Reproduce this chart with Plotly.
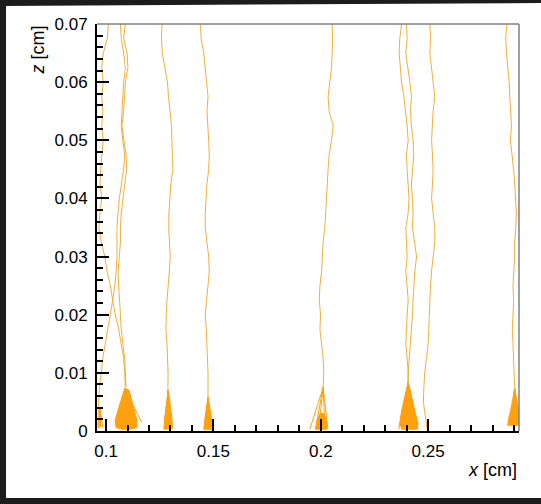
import plotly.graph_objects as go

# ---------------- data ----------------
# common drift z-levels (cm)
z_levels = [0.07, 0.0675, 0.065, 0.0625, 0.06, 0.0575, 0.055, 0.0525, 0.05,
            0.0475, 0.045, 0.0425, 0.04, 0.0375, 0.035, 0.0325, 0.03, 0.0275,
            0.025, 0.0225, 0.02, 0.0175, 0.015, 0.0125, 0.01, 0.0075]

# drift lines: x (cm) at each z-level
track_1 = [0.1011, 0.1006, 0.0987, 0.0980, 0.0987, 0.0980, 0.0985, 0.0980, 0.0987,
           0.0980, 0.0975, 0.0972, 0.0980, 0.0972, 0.0967, 0.0978, 0.0994, 0.1005,
           0.1020, 0.1031, 0.1043, 0.1059, 0.1071, 0.1082, 0.1087, 0.1090]
track_2 = [0.1067, 0.1071, 0.1082, 0.1090, 0.1082, 0.1078, 0.1074, 0.1071, 0.1078,
           0.1087, 0.1082, 0.1071, 0.1062, 0.1056, 0.1051, 0.1051, 0.1051, 0.1047,
           0.1041, 0.1031, 0.1020, 0.1009, 0.0997, 0.0985, 0.0978, 0.0969]
track_3 = [0.1090, 0.1082, 0.1098, 0.1102, 0.1090, 0.1087, 0.1082, 0.1074, 0.1082,
           0.1093, 0.1096, 0.1087, 0.1078, 0.1071, 0.1067, 0.1067, 0.1062, 0.1056,
           0.1059, 0.1062, 0.1067, 0.1071, 0.1078, 0.1087, 0.1090, 0.1093]
track_4 = [0.1261, 0.1258, 0.1262, 0.1275, 0.1286, 0.1291, 0.1298, 0.1305, 0.1307,
           0.1310, 0.1311, 0.1302, 0.1297, 0.1293, 0.1292, 0.1296, 0.1299, 0.1295,
           0.1289, 0.1284, 0.1281, 0.1279, 0.1284, 0.1288, 0.1289, 0.1288]
track_5 = [0.1439, 0.1443, 0.1455, 0.1462, 0.1470, 0.1475, 0.1470, 0.1475, 0.1478,
           0.1481, 0.1478, 0.1470, 0.1465, 0.1462, 0.1462, 0.1470, 0.1478, 0.1481,
           0.1475, 0.1470, 0.1462, 0.1467, 0.1470, 0.1475, 0.1475, 0.1475]
track_6 = [0.2053, 0.2055, 0.2053, 0.2050, 0.2042, 0.2034, 0.2039, 0.2058, 0.2050,
           0.2039, 0.2034, 0.2030, 0.2027, 0.2024, 0.2019, 0.2011, 0.2008, 0.2004,
           0.1996, 0.1993, 0.1999, 0.1996, 0.2004, 0.2011, 0.2014, 0.2011]
track_7 = [0.2376, 0.2368, 0.2365, 0.2371, 0.2376, 0.2387, 0.2396, 0.2402, 0.2407,
           0.2399, 0.2402, 0.2407, 0.2411, 0.2407, 0.2396, 0.2399, 0.2402, 0.2396,
           0.2402, 0.2407, 0.2402, 0.2399, 0.2396, 0.2402, 0.2407, 0.2407]
track_8 = [0.2399, 0.2402, 0.2396, 0.2407, 0.2415, 0.2422, 0.2418, 0.2422, 0.2430,
           0.2433, 0.2427, 0.2422, 0.2427, 0.2430, 0.2427, 0.2438, 0.2446, 0.2438,
           0.2433, 0.2430, 0.2427, 0.2422, 0.2415, 0.2411, 0.2407, 0.2405]
track_9 = [0.2508, 0.2511, 0.2508, 0.2516, 0.2523, 0.2531, 0.2523, 0.2520, 0.2516,
           0.2520, 0.2523, 0.2520, 0.2516, 0.2523, 0.2531, 0.2531, 0.2523, 0.2516,
           0.2511, 0.2508, 0.2504, 0.2500, 0.2500, 0.2492, 0.2484, 0.2480]
track_10 = [0.2867, 0.2861, 0.2865, 0.2872, 0.2877, 0.2880, 0.2883, 0.2888, 0.2883,
            0.2892, 0.2898, 0.2903, 0.2908, 0.2911, 0.2908, 0.2903, 0.2903, 0.2898,
            0.2895, 0.2898, 0.2895, 0.2892, 0.2895, 0.2898, 0.2903, 0.2903]

# tails below the last z-level (track index -> x list, z list)
tail_2_x = [0.0966, 0.0963, 0.0965]
tail_2_z = [0.0050, 0.0020, 0.0005]
tail_4_x = [0.1289]
tail_4_z = [0.0066]
tail_5_x = [0.1476, 0.1475]
tail_5_z = [0.0065, 0.0054]
tail_9_x = [0.2478, 0.2485, 0.2492, 0.2497]
tail_9_z = [0.0050, 0.0030, 0.0015, 0.0000]
tail_10_x = [0.2903]
tail_10_z = [0.0069]

# avalanche clusters (outline x, z in cm)
c1_x = [0.1088, 0.1107, 0.1116, 0.1126, 0.1135, 0.1144, 0.1144, 0.1112, 0.1074, 0.1047, 0.1042, 0.1051, 0.1065, 0.1074]
c1_z = [0.0073, 0.0070, 0.0058, 0.0044, 0.0030, 0.0018, 0.0006, 0.0003, 0.0003, 0.0006, 0.0018, 0.0030, 0.0044, 0.0058]
c2_x = [0.1289, 0.1296, 0.1300, 0.1307, 0.1309, 0.1270, 0.1272, 0.1279, 0.1284]
c2_z = [0.0070, 0.0056, 0.0039, 0.0022, 0.0004, 0.0003, 0.0018, 0.0035, 0.0053]
c3_x = [0.1475, 0.1482, 0.1489, 0.1496, 0.1456, 0.1461, 0.1468]
c3_z = [0.0058, 0.0044, 0.0027, 0.0003, 0.0003, 0.0022, 0.0039]
c4_x = [0.1996, 0.2014, 0.2028, 0.2028, 0.1977, 0.1982]
c4_z = [0.0030, 0.0030, 0.0015, 0.0003, 0.0003, 0.0016]
c5_x = [0.2407, 0.2415, 0.2424, 0.2438, 0.2453, 0.2447, 0.2377, 0.2368, 0.2376, 0.2391, 0.2401]
c5_z = [0.0084, 0.0070, 0.0056, 0.0034, 0.0013, 0.0003, 0.0003, 0.0013, 0.0034, 0.0056, 0.0070]
c6_x = [0.2903, 0.2912, 0.2922, 0.2931, 0.2931, 0.2871, 0.2875, 0.2889, 0.2898]
c6_z = [0.0073, 0.0053, 0.0035, 0.0018, 0.0010, 0.0010, 0.0022, 0.0039, 0.0056]

# fan strands: apex (x, z) then end points
fan_apex_x = [0.1088, 0.1289, 0.1475, 0.2011, 0.2407, 0.2903, 0.0972]
fan_apex_z = [0.0073, 0.0070, 0.0058, 0.0075, 0.0084, 0.0073, 0.0040]
fan_end_x = [[0.1050, 0.1065, 0.1080, 0.1095, 0.1110, 0.1125, 0.1140, 0.1166],
             [0.1270, 0.1280, 0.1290, 0.1300, 0.1309],
             [0.1456, 0.1466, 0.1476, 0.1486, 0.1495],
             [0.1949, 0.1975, 0.1990, 0.2020, 0.2033],
             [0.2363, 0.2378, 0.2393, 0.2408, 0.2423, 0.2438, 0.2453, 0.2450],
             [0.2871, 0.2881, 0.2891, 0.2901, 0.2911, 0.2921, 0.2931],
             [0.0962, 0.0968, 0.0975, 0.0985]]
fan_end_z = [[0.0006, 0.0003, 0.0003, 0.0003, 0.0003, 0.0003, 0.0006, 0.0015],
             [0.0004, 0.0004, 0.0004, 0.0004, 0.0004],
             [0.0003, 0.0003, 0.0003, 0.0003, 0.0003],
             [0.0003, 0.0003, 0.0003, 0.0003, 0.0003],
             [0.0003, 0.0003, 0.0003, 0.0003, 0.0003, 0.0003, 0.0003, 0.0010],
             [0.0010, 0.0010, 0.0010, 0.0010, 0.0010, 0.0010, 0.0010],
             [0.0006, 0.0006, 0.0006, 0.0006]]

# ---------------- figure ----------------
LINE_COL = "rgba(240,165,40,0.9)"
FILL_COL = "rgb(255,160,15)"
fig = go.Figure()

clusters = [(c1_x, c1_z), (c2_x, c2_z), (c3_x, c3_z), (c4_x, c4_z), (c5_x, c5_z), (c6_x, c6_z)]
for cx, cz in clusters:
    fig.add_trace(go.Scatter(x=cx + [cx[0]], y=cz + [cz[0]], mode="lines", fill="toself",
                             fillcolor=FILL_COL, line=dict(color=FILL_COL, width=1),
                             showlegend=False, hoverinfo="skip"))

fx, fz = [], []
for ax_, az_, ex, ez in zip(fan_apex_x, fan_apex_z, fan_end_x, fan_end_z):
    for x2, z2 in zip(ex, ez):
        fx += [ax_, x2, None]
        fz += [az_, z2, None]
fig.add_trace(go.Scatter(x=fx, y=fz, mode="lines", line=dict(color=FILL_COL, width=1),
                         showlegend=False, hoverinfo="skip"))

tracks = [track_1, track_2, track_3, track_4, track_5, track_6, track_7, track_8, track_9, track_10]
tails = {1: (tail_2_x, tail_2_z), 3: (tail_4_x, tail_4_z), 4: (tail_5_x, tail_5_z),
         8: (tail_9_x, tail_9_z), 9: (tail_10_x, tail_10_z)}
for i, tr in enumerate(tracks):
    xs, zs = list(tr), list(z_levels)
    if i in tails:
        xs += tails[i][0]
        zs += tails[i][1]
    fig.add_trace(go.Scatter(x=xs, y=zs, mode="lines", line=dict(color=LINE_COL, width=1),
                             showlegend=False, hoverinfo="skip"))

FONT = "Liberation Sans, Arial, sans-serif"
axis_common = dict(showgrid=False, zeroline=False, showline=True, linecolor="black", linewidth=2,
                   ticks="inside", ticklen=12, tickwidth=1.5, tickcolor="black",
                   tickfont=dict(family=FONT, size=17, color="black"))
fig.update_xaxes(range=[0.0958, 0.2923], tickmode="linear", tick0=0, dtick=0.05,
                 minor=dict(ticks="inside", ticklen=6, tickwidth=1.5, tickcolor="black",
                            dtick=0.01, tick0=0, showgrid=False),
                 ticklabelstandoff=4, **axis_common)
fig.update_yaxes(range=[0, 0.07001], tickmode="linear", tick0=0, dtick=0.01,
                 minor=dict(ticks="inside", ticklen=6, tickwidth=1.5, tickcolor="black",
                            dtick=0.002, tick0=0, showgrid=False),
                 ticklabelstandoff=4, **axis_common)

dark = "#1c1c1c"
shapes = [
    dict(type="line", xref="paper", yref="paper", x0=0, x1=1, y0=1, y1=1,
         line=dict(color="#808080", width=1.5)),
    dict(type="line", xref="paper", yref="paper", x0=1, x1=1, y0=0, y1=1,
         line=dict(color="#808080", width=1.5)),
    dict(type="rect", xref="paper", yref="paper", x0=-0.232, x1=-0.2156, y0=-0.19, y1=1.07,
         fillcolor=dark, line=dict(width=0)),
    dict(type="path", xref="paper", yref="paper",
         path="M -0.232,1.07 L 1.06,1.07 L 1.06,1.0516 L -0.232,1.0442 Z",
         fillcolor=dark, line=dict(width=0)),
    dict(type="rect", xref="paper", yref="paper", x0=-0.232, x1=1.06, y0=-0.19, y1=-0.1646,
         fillcolor=dark, line=dict(width=0)),
]

annotations = [
    dict(text="<i>z</i> [cm]", xref="paper", yref="paper", x=-0.142, y=1.0, xanchor="center",
         yanchor="top", textangle=-90, showarrow=False, font=dict(family=FONT, size=18, color="black")),
    dict(text="<i>x</i> [cm]", xref="paper", yref="paper", x=1.0, y=-0.0958, xanchor="right",
         yanchor="middle", showarrow=False, font=dict(family=FONT, size=18, color="black")),
]

fig.update_layout(width=541, height=504, margin=dict(l=97, r=22, t=24, b=73, pad=0),
                  paper_bgcolor="white", plot_bgcolor="white", shapes=shapes,
                  annotations=annotations, showlegend=False)

fig.write_html("out.html")
